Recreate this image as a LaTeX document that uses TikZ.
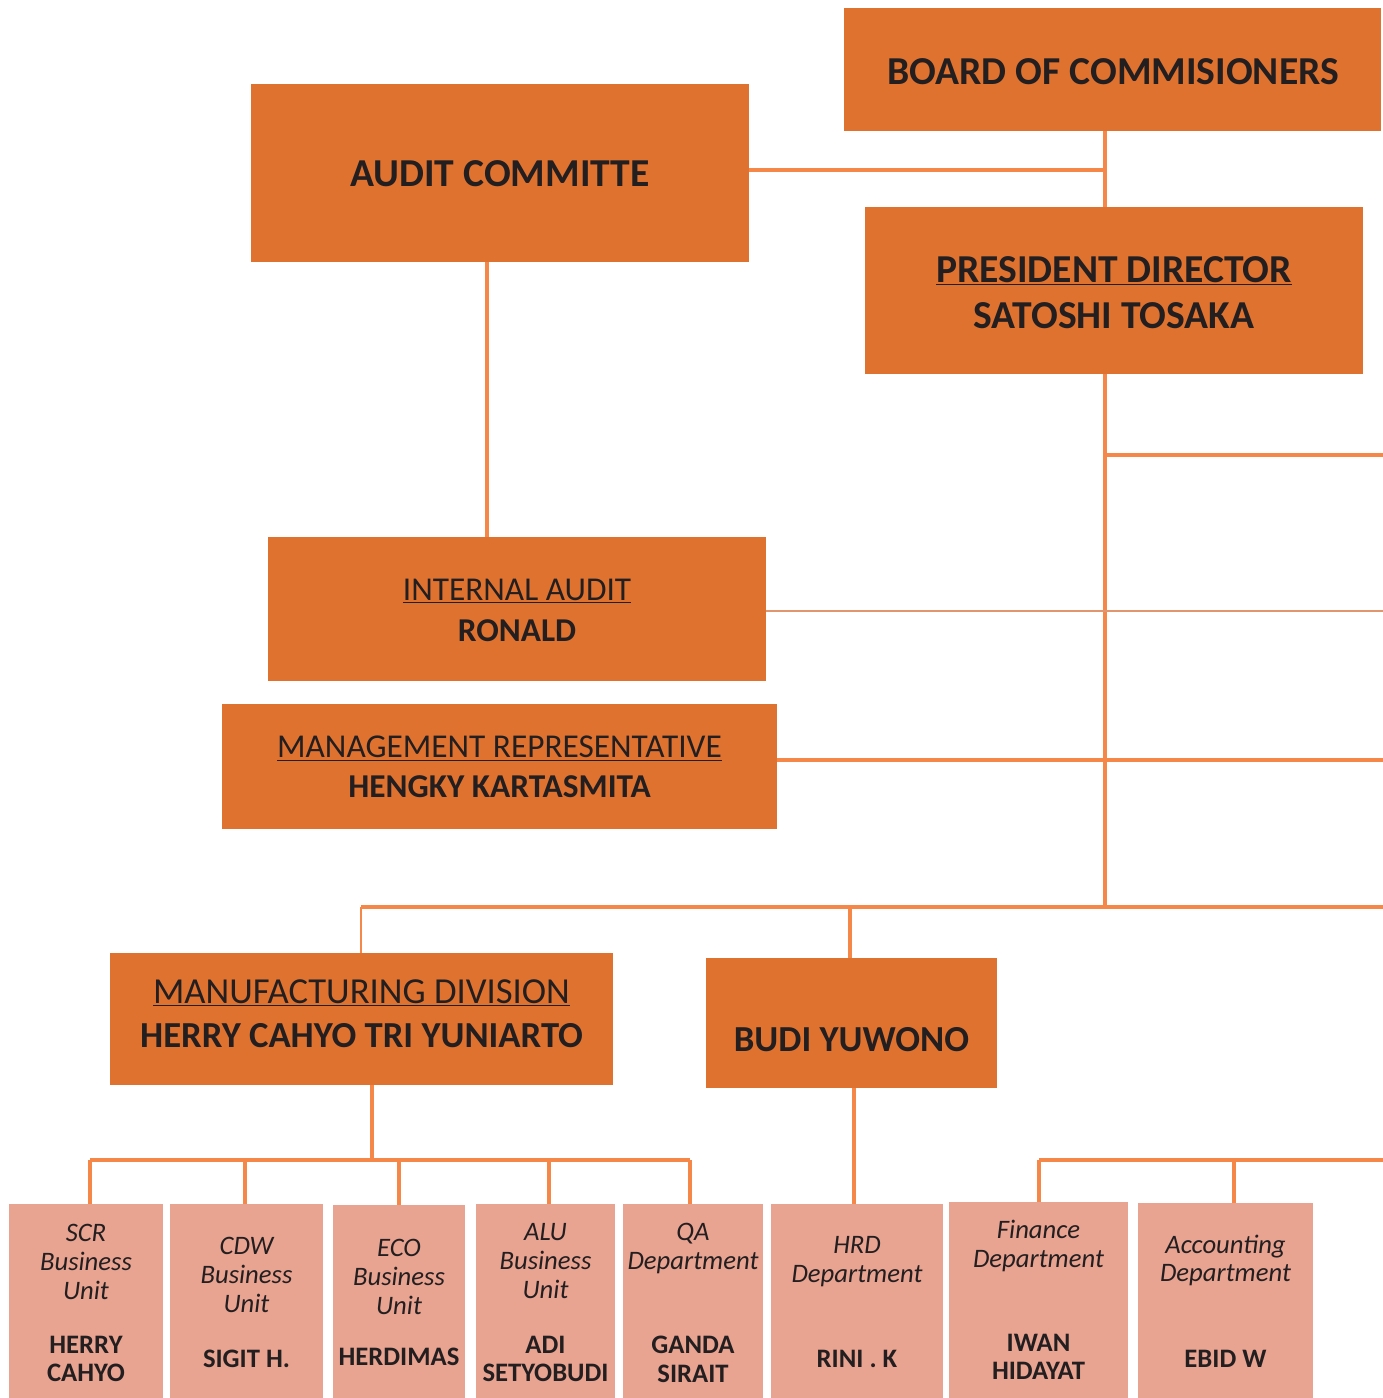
\documentclass[tikz,border=0pt]{standalone}
\usepackage{fontspec}
\setmainfont{Carlito}
\definecolor{boxor}{RGB}{224,114,48}
\definecolor{lineor}{RGB}{245,135,72}
\definecolor{thinor}{RGB}{226,150,112}
\definecolor{subbox}{RGB}{232,163,145}
\definecolor{txt}{RGB}{35,31,32}
\begin{document}
\begin{tikzpicture}[x=0.75pt,y=-0.75pt,
  bx/.style 2 args={minimum width=#1*0.75pt, minimum height=#2*0.75pt, inner sep=0pt, outer sep=0pt},
  topbox/.style={fill=boxor},
  toptxt/.style={text=txt, align=center, inner sep=0pt},
  subbx/.style={fill=subbox},
  conn/.style={draw=lineor, line width=3.6pt},
  thinconn/.style={draw=lineor, line width=1.6pt},
  hairconn/.style={draw=thinor, line width=1.1pt},
  ttl/.style={text=txt, align=center, inner sep=0pt, font=\itshape\fontsize{20}{21.5}\selectfont},
  nm/.style={text=txt, align=center, inner sep=0pt, font=\bfseries\fontsize{20}{21.5}\selectfont}]
\useasboundingbox (0,0) rectangle (1383,1398);

% top level boxes
\node[topbox, bx={537}{123}] (board) at (1112.5,69.5) {};
\node[topbox, bx={498}{178}] (audit) at (500,173) {};
\node[topbox, bx={498}{167}] (pres) at (1114,290.5) {};
\node[topbox, bx={498}{144}] (intaud) at (517,609) {};
\node[topbox, bx={555}{125}] (mgmt) at (499.5,766.5) {};
\node[topbox, bx={503}{132}] (manuf) at (361.5,1019) {};
\node[topbox, bx={291}{130}] (budi) at (851.5,1023) {};

\node[toptxt, font=\bfseries\fontsize{29.7}{35}\selectfont] (boardT) at (1113,72) {BOARD OF COMMISIONERS};
\node[toptxt, font=\bfseries\fontsize{29.7}{35}\selectfont] (auditT) at (500,174) {AUDIT COMMITTE};
\node[toptxt, font=\bfseries\fontsize{29.7}{35}\selectfont] (presT) at (1114,292.5) {\underline{PRESIDENT DIRECTOR}\\SATOSHI TOSAKA};
\node[toptxt, font=\fontsize{25}{31}\selectfont] (intaudT) at (517,610.5) {\underline{INTERNAL AUDIT}\\\textbf{RONALD}};
\node[toptxt, font=\fontsize{25}{30}\selectfont] (mgmtT) at (499.5,767) {\underline{MANAGEMENT REPRESENTATIVE}\\\textbf{HENGKY KARTASMITA}};
\node[toptxt, font=\fontsize{27.5}{33}\selectfont] (manufT) at (361.5,1013.5) {\underline{MANUFACTURING DIVISION}\\\textbf{HERRY CAHYO TRI YUNIARTO}};
\node[toptxt, font=\bfseries\fontsize{27.5}{33}\selectfont] (budiT) at (851.5,1040) {BUDI YUWONO};

% bottom boxes
\node[subbx, bx={154}{194}] (scr) at (86,1301) {};
\node[subbx, bx={153}{194}] (cdw) at (246.5,1301) {};
\node[subbx, bx={132}{193}] (eco) at (399,1301.5) {};
\node[subbx, bx={139}{194}] (alu) at (545.5,1301) {};
\node[subbx, bx={140}{194}] (qa) at (693,1301) {};
\node[subbx, bx={172}{194}] (hrd) at (857,1301) {};
\node[subbx, bx={179}{196}] (fin) at (1038.5,1300) {};
\node[subbx, bx={175}{195}] (acc) at (1225.5,1300.5) {};

\node[ttl] (t1) at (scr.center |- 0,1262) {SCR\\Business\\Unit};
\node[nm] (n1) at (scr.center |- 0,1359) {HERRY\\CAHYO};
\node[ttl] (t2) at (cdw.center |- 0,1275) {CDW\\Business\\Unit};
\node[nm] (n2) at (cdw.center |- 0,1359) {SIGIT H.};
\node[ttl] (t3) at (eco.center |- 0,1277) {ECO\\Business\\Unit};
\node[nm] (n3) at (eco.center |- 0,1357) {HERDIMAS};
\node[ttl] (t4) at (alu.center |- 0,1261) {ALU\\Business\\Unit};
\node[nm] (n4) at (alu.center |- 0,1359) {ADI\\SETYOBUDI};
\node[ttl] (t5) at (qa.center |- 0,1248.5) {QA\\Department};
\node[nm] (n5) at (qa.center |- 0,1359) {GANDA\\SIRAIT};
\node[ttl] (t6) at (hrd.center |- 0,1261.5) {HRD\\Department};
\node[nm] (n6) at (hrd.center |- 0,1359) {RINI . K};
\node[ttl] (t7) at (fin.center |- 0,1246) {Finance\\Department};
\node[nm] (n7) at (fin.center |- 0,1357) {IWAN\\HIDAYAT};
\node[ttl] (t8) at (acc.center |- 0,1260.5) {Accounting\\Department};
\node[nm] (n8) at (acc.center |- 0,1359) {EBID W};

% junction coordinates
\coordinate (jA) at (1105,170);
\coordinate (jP) at (1105,455);
\coordinate (jB) at (1105,907);
\coordinate (jM) at (361,907);
\coordinate (jBu) at (850,907);
\coordinate (eR1) at (1383,455);
\coordinate (eR2) at (1383,611);
\coordinate (eR3) at (1383,760);
\coordinate (eR4) at (1383,907);
\coordinate (eR5) at (1383,1160);
\coordinate (xa) at (487,0);
\coordinate (jD) at (372,1160);
\coordinate (h1) at (90,1160);
\coordinate (h2) at (245,1160);
\coordinate (h3) at (399,1160);
\coordinate (h4) at (549,1160);
\coordinate (h5) at (690,1160);
\coordinate (xb) at (854,0);
\coordinate (f1) at (1039,1160);
\coordinate (f2) at (1234,1160);

% connectors
\draw[conn] (board.south -| jA) -- (pres.north -| jA);
\draw[conn] (audit.east |- jA) -- (jA);
\draw[conn] (pres.south -| jA) -- (jB);
\draw[conn] (jP) -- (eR1);
\draw[hairconn] (intaud.east |- eR2) -- (eR2);
\draw[conn] (mgmt.east |- eR3) -- (eR3);
\draw[conn] (jM) -- (eR4);
\draw[thinconn] (jM) -- (manuf.north -| jM);
\draw[conn] (jBu) -- (budi.north -| jBu);
\draw[conn] (audit.south -| xa) -- (intaud.north -| xa);
\draw[conn] (manuf.south -| jD) -- (jD);
\draw[conn] (h1) -- (h5);
\draw[conn] (h1) -- (scr.north -| h1);
\draw[conn] (h2) -- (cdw.north -| h2);
\draw[conn] (h3) -- (eco.north -| h3);
\draw[conn] (h4) -- (alu.north -| h4);
\draw[conn] (h5) -- (qa.north -| h5);
\draw[conn] (budi.south -| xb) -- (hrd.north -| xb);
\draw[conn] (f1) -- (eR5);
\draw[conn] (f1) -- (fin.north -| f1);
\draw[conn] (f2) -- (acc.north -| f2);
\end{tikzpicture}
\end{document}
